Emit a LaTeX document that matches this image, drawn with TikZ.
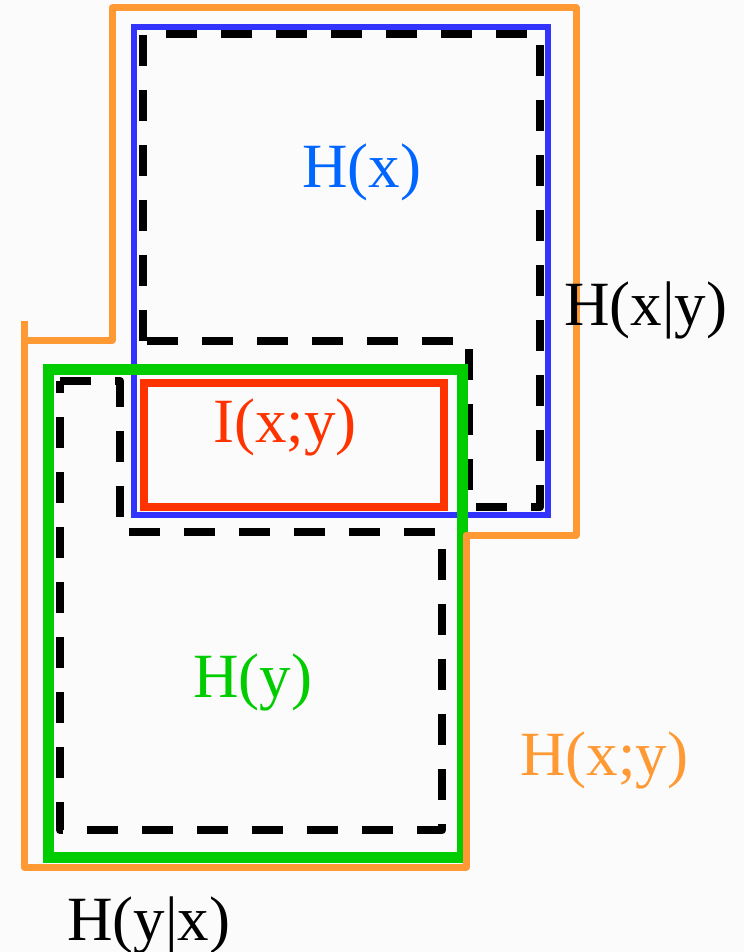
\documentclass[tikz,border=0pt]{standalone}
\usepackage{fontspec}
\setmainfont{Liberation Serif}
\definecolor{bgc}{HTML}{FBFBFB}
\definecolor{orng}{HTML}{FF9933}
\definecolor{blu}{HTML}{3333FF}
\definecolor{blutext}{HTML}{0066FF}
\definecolor{grn}{HTML}{00CC00}
\definecolor{redd}{HTML}{FF3300}
\tikzset{
  lbl/.style={inner sep=0pt, anchor=base west, font=\fontsize{63}{70}\selectfont},
  dashline/.style={draw=black, line width=8.5pt, dash pattern=on 31pt off 24pt, line join=round},
}
\begin{document}
\begin{tikzpicture}[x=1pt,y=-1pt]
\fill[bgc] (0,0) rectangle (744,952);
\useasboundingbox (0,0) rectangle (744,952);
% blue H(x)
\draw[blu, line width=5.5pt] (134,27) rectangle (548,515);
% dashed H(x|y)
\draw[dashline] (143,341) -- (143,34) -- (540,34) -- (540,507) -- (469,507) -- (469,341) -- cycle;
% green H(y)
\draw[grn, line width=11pt] (48,369) rectangle (462,857);
% red I(x;y)
\draw[redd, line width=8pt] (144,383) rectangle (444,507);
% dashed H(y|x)
\draw[dashline] (60,381) -- (120,381) -- (120,532) -- (442,532) -- (442,830) -- (60,830) -- cycle;
% orange H(x;y)
\draw[orng, line width=7pt, line join=round] (24,340) -- (112,340) -- (112,8) -- (576,8) -- (576,535) -- (466,535) -- (466,867) -- (24,867) -- (24,321);
% labels
\node[lbl, text=blutext] (hx) at (302,187) {H(x)};
\node[lbl, text=black] (hxy) at (564,325) {H(x|y)};
\node[lbl, text=redd] (ixy) at (213,442) {I(x;y)};
\node[lbl, text=grn] (hy) at (193,697) {H(y)};
\node[lbl, text=orng] (hjoint) at (520,775) {H(x;y)};
\node[lbl, text=black] (hyx) at (67,940) {H(y|x)};
\end{tikzpicture}
\end{document}
